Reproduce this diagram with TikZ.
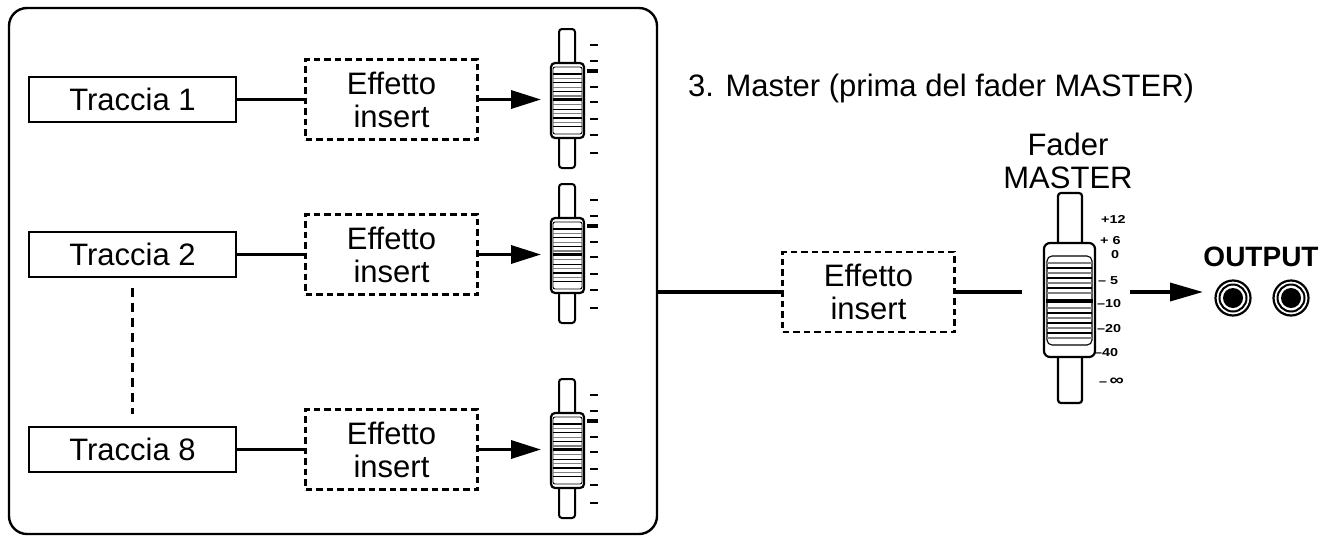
\documentclass[tikz,border=0pt]{standalone}
\usepackage{fontspec}
\usepackage{graphicx}
\setmainfont{Liberation Sans}
\usetikzlibrary{arrows.meta}
\begin{document}
\begin{tikzpicture}[x=1pt,y=-1pt,
  txt/.style={font=\fontsize{31}{33}\selectfont},
  track/.style={draw,line width=2.4pt,minimum width=207pt,minimum height=45pt,inner sep=0pt,txt},
  fx/.style={draw,dash pattern=on 6.5pt off 4pt,line width=2.2pt,minimum width=172pt,minimum height=80pt,inner sep=0pt,align=center,txt},
  conn/.style={line width=3.5pt},
  arr/.style={line width=3.5pt,-{Triangle[length=30pt,width=18pt]}},
  slot/.style={draw,line width=2pt,rounded corners=3pt,fill=white},
  knob/.style={draw,line width=2.2pt,fill=white},
  scl/.style={font=\bfseries\fontsize{11.5}{11.5}\selectfont,inner sep=0pt},
]
\useasboundingbox (0,0) rectangle (1335,536);
% outer frame
\draw[line width=2.4pt,rounded corners=18pt] (9,8) rectangle (657,534);
% tracks
\node[track] (t1) at (132.5,99.5) {Traccia 1};
\node[track] (t2) at (132.5,254.5) {Traccia 2};
\node[track] (t8) at (132.5,449.5) {Traccia 8};
\draw[line width=2.2pt,dash pattern=on 9pt off 6pt,shorten <=10pt,shorten >=12pt] (t2) -- (t8);
% insert effects
\node[fx] (e1) at (391.5,99.5) {Effetto\\insert};
\node[fx] (e2) at (391.5,254.5) {Effetto\\insert};
\node[fx] (e8) at (391.5,449.5) {Effetto\\insert};
\draw[conn] (t1) -- (e1);
\draw[conn] (t2) -- (e2);
\draw[conn] (t8) -- (e8);
% channel faders
\foreach \o/\n in {0/1,155/2,350/8}{
  \begin{scope}[yshift=-\o pt]
    \draw[slot] (559,29) rectangle (575,168);
    \draw[knob,rounded corners=4pt] (551,63) rectangle (584,138);
    \draw[line width=0.9pt,rounded corners=2pt] (553,67) rectangle (582,134);
    \foreach \k in {0,...,12}{
      \pgfmathsetmacro\yy{74+4.4*\k}
      \pgfmathtruncatemacro\m{mod(\k,2)}
      \ifnum\k=6\else
        \ifnum\m=0 \draw[line width=1.1pt] (553,\yy) -- (582,\yy);
        \else \draw[line width=1.1pt,gray] (553,\yy) -- (582,\yy);\fi
      \fi
    }
    \draw[line width=3pt] (553,99.5) -- (582,99.5);
    \foreach \t in {45,61,87,102,119,135,153}{\draw[line width=2pt] (590,\t) -- (598,\t);}
    \draw[line width=4pt] (587,71) -- (598,71);
  \end{scope}
}
\coordinate (f1) at (541,99.5);
\coordinate (f2) at (541,254.5);
\coordinate (f8) at (541,449.5);
\draw[arr] (e1) -- (f1);
\draw[arr] (e2) -- (f2);
\draw[arr] (e8) -- (f8);
% master section
\node[txt,anchor=base west,inner sep=0pt] (title) at (688,96) {3. Master (prima del fader MASTER)};
\node[txt,align=center,inner sep=0pt,anchor=base] (fl) at (1068,188) {Fader\\MASTER};
\coordinate (boxr) at (657,292);
\node[fx] (em) at (868.5,292) {Effetto\\insert};
\coordinate (mfin) at (1022,292);
\draw[conn] (boxr) -- (em);
\draw[conn] (em) -- (mfin);
% master fader
\draw[slot,line width=2.2pt] (1058,193) rectangle (1082,403);
\draw[knob,rounded corners=6pt] (1044,243) rectangle (1095,357);
\draw[line width=1.1pt,rounded corners=5pt] (1047,256) rectangle (1092,345);
\foreach \k in {0,...,6}{
  \pgfmathsetmacro\ya{263+5*\k}
  \pgfmathsetmacro\yb{308+5*\k}
  \pgfmathtruncatemacro\m{mod(\k,2)}
  \ifnum\m=0
    \draw[line width=1.1pt,gray] (1047,\ya) -- (1092,\ya);
    \draw[line width=1.1pt,gray] (1047,\yb) -- (1092,\yb);
  \else
    \draw[line width=1.1pt] (1047,\ya) -- (1092,\ya);
    \draw[line width=1.1pt] (1047,\yb) -- (1092,\yb);
  \fi
}
\draw[line width=3.2pt] (1046,301) -- (1093,301);
\node[scl,anchor=west] (s12) at (1101,219) {\scalebox{1.25}[1]{+12}};
\node[scl,anchor=west] (s6) at (1100,241) {\scalebox{1.25}[1]{+ 6}};
\node[scl] (s0) at (1115,255) {\scalebox{1.25}[1]{0}};
\node[scl,anchor=west] (s5) at (1098,281) {\scalebox{1.25}[1]{– 5}};
\node[scl,anchor=west] (s10) at (1097,304) {\scalebox{1.25}[1]{–10}};
\node[scl,anchor=west] (s20) at (1097,329) {\scalebox{1.25}[1]{–20}};
\node[scl,anchor=west] (s40) at (1094,353) {\scalebox{1.25}[1]{–40}};
\node[scl,anchor=west] (sinf) at (1099,382) {\scalebox{1.25}[1]{–\,{\fontsize{16}{16}\selectfont ∞}}};
% output
\coordinate (mfout) at (1130,292);
\coordinate (otip) at (1203,292);
\draw[line width=3.5pt,-{Triangle[length=33pt,width=18pt]}] (mfout) -- (otip);
\node[font=\bfseries\fontsize{28}{28}\selectfont,anchor=base,inner sep=0pt] (out) at (1261,266) {OUTPUT};
\foreach \x in {1233,1291}{
  \draw[line width=2.2pt] (\x,298) circle (17.5pt);
  \draw[line width=2pt] (\x,298) circle (13.5pt);
  \fill (\x,298) circle (10pt);
}
\end{tikzpicture}
\end{document}
